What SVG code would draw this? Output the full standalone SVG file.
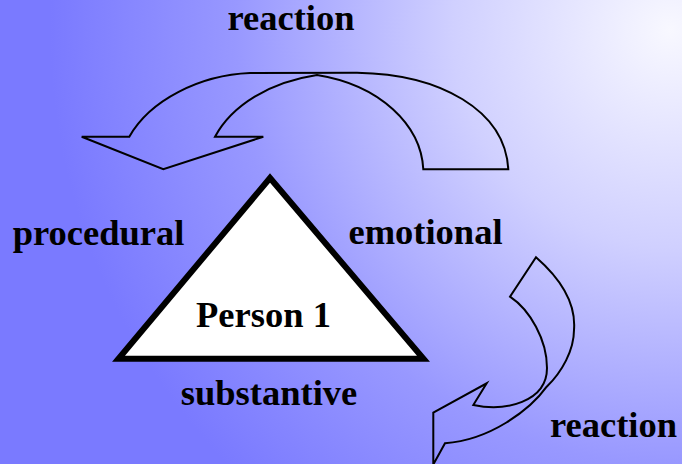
<svg xmlns="http://www.w3.org/2000/svg" width="682" height="464" viewBox="0 0 682 464">
<defs>
<radialGradient id="bg" gradientUnits="userSpaceOnUse" cx="670" cy="30" r="620">
<stop offset="0" stop-color="#f8f8ff"/>
<stop offset="0.35" stop-color="#d0d0ff"/>
<stop offset="0.7" stop-color="#9898ff"/>
<stop offset="1" stop-color="#7a7aff"/>
</radialGradient>
<style>
.lbl{font-family:"Liberation Serif","Times New Roman",serif;font-weight:bold;font-size:36.5px;fill:#000}
.arrow{fill:none;stroke:#000;stroke-width:2;stroke-linejoin:miter}
</style>
</defs>
<rect width="682" height="464" fill="url(#bg)"/>
<g id="connectors">
<path id="arrow-top" class="arrow" d="M129.3,136.7 C150,100 200,75 250,73 L357,72.7 C440,74 505,110 508.3,169.3 L423.3,169.3 C421,125 380,85 317,75 C270,82 232,105 215,136.7 L263.3,136.7 L163.3,169.3 L81.7,136.7 Z"/>
<path id="arrow-bottom" class="arrow" d="M536,257.3 C562,280 576,305 574,330 C574,350 562,372 546.7,386.7 C530,410 490,440 445,443.3 L433.3,464.5 L433.3,412.7 L486.7,383.3 L473.3,405 C505,412 547,402 547,368 C547,340 530,310 510,296.7 Z"/>
</g>
<g id="person1">
<polygon points="118.5,358.8 270,178 423.5,358.8" fill="#fff" stroke="#000" stroke-width="6" stroke-linejoin="miter"/>
<text class="lbl" x="263.5" y="326.7" text-anchor="middle">Person 1</text>
</g>
<g id="label-reaction-top"><text class="lbl" x="291" y="30" text-anchor="middle">reaction</text></g>
<g id="label-procedural"><text class="lbl" x="98.5" y="245" text-anchor="middle">procedural</text></g>
<g id="label-emotional"><text class="lbl" x="425.5" y="243.5" text-anchor="middle">emotional</text></g>
<g id="label-substantive"><text class="lbl" x="269" y="405" text-anchor="middle">substantive</text></g>
<g id="label-reaction-bottom"><text class="lbl" x="613.5" y="436.7" text-anchor="middle">reaction</text></g>
</svg>
